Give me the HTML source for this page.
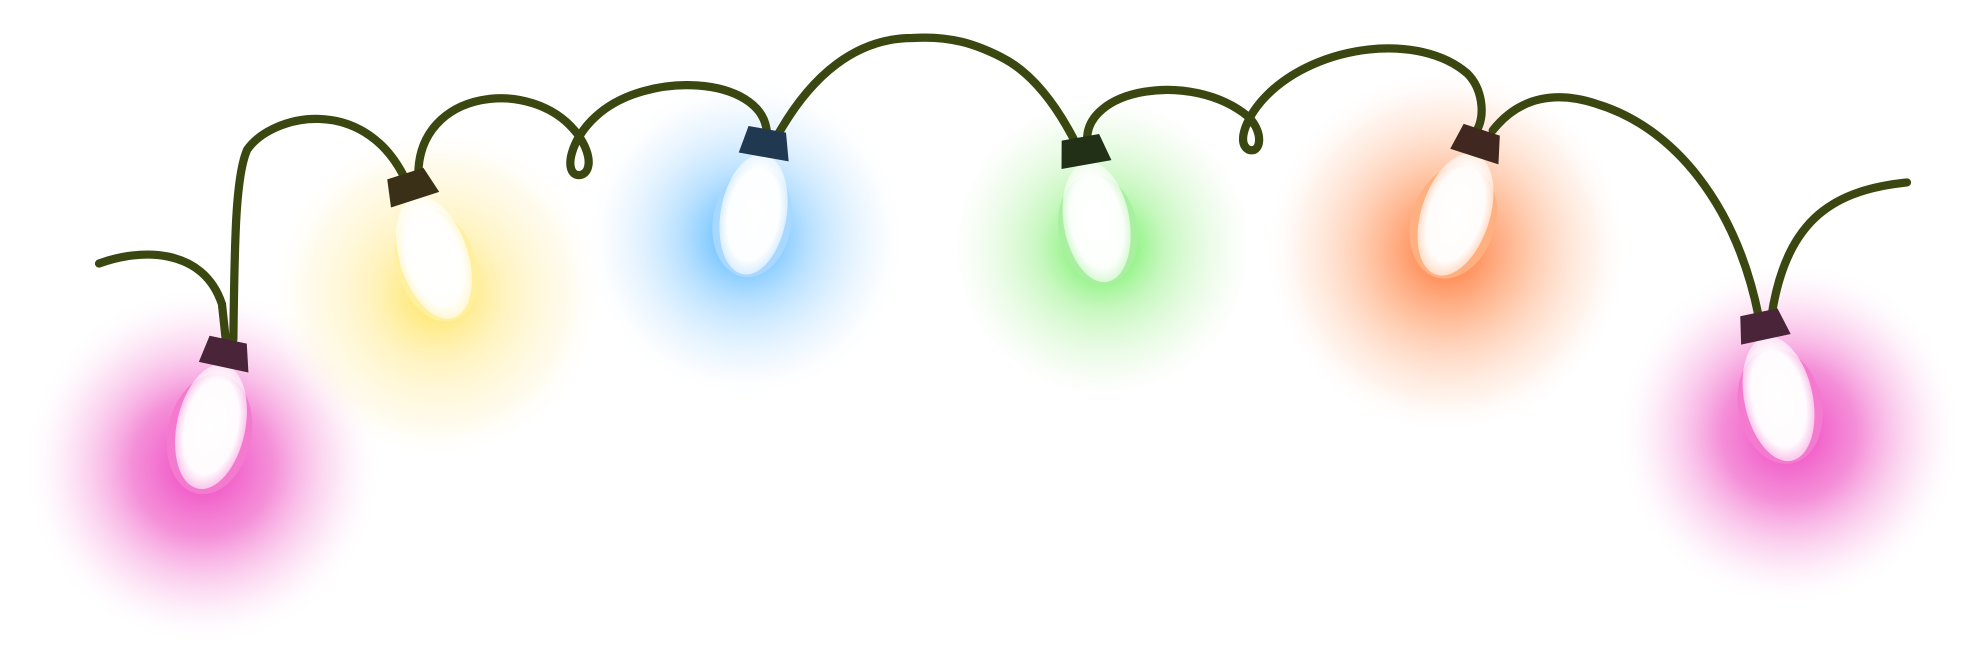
<!DOCTYPE html>
<html><head><meta charset="utf-8"><style>
html,body{margin:0;padding:0;background:#fff;width:1987px;height:655px;overflow:hidden}
svg{display:block}
</style></head><body>
<svg width="1987" height="655" viewBox="0 0 1568 517">
<defs>
<radialGradient id="gPink"><stop offset="0" stop-color="#f040c0" stop-opacity="1"/><stop offset="0.4" stop-color="#f060c8" stop-opacity="0.7"/><stop offset="0.75" stop-color="#f8a8e0" stop-opacity="0.3"/><stop offset="1" stop-color="#fdf0f8" stop-opacity="0"/></radialGradient>
<radialGradient id="gYellow"><stop offset="0" stop-color="#ffe040" stop-opacity="0.9"/><stop offset="0.4" stop-color="#ffe880" stop-opacity="0.5"/><stop offset="0.8" stop-color="#fff3c8" stop-opacity="0.3"/><stop offset="1" stop-color="#fff" stop-opacity="0"/></radialGradient>
<radialGradient id="gBlue"><stop offset="0" stop-color="#40b0ff" stop-opacity="1"/><stop offset="0.4" stop-color="#80c8ff" stop-opacity="0.55"/><stop offset="0.8" stop-color="#d8ecff" stop-opacity="0.3"/><stop offset="1" stop-color="#fff" stop-opacity="0"/></radialGradient>
<radialGradient id="gGreen"><stop offset="0" stop-color="#50f040" stop-opacity="1"/><stop offset="0.4" stop-color="#90f080" stop-opacity="0.5"/><stop offset="0.8" stop-color="#e0f8d8" stop-opacity="0.3"/><stop offset="1" stop-color="#fff" stop-opacity="0"/></radialGradient>
<radialGradient id="gOrange"><stop offset="0" stop-color="#ff7030" stop-opacity="1"/><stop offset="0.4" stop-color="#ff9860" stop-opacity="0.6"/><stop offset="0.8" stop-color="#ffdcc8" stop-opacity="0.35"/><stop offset="1" stop-color="#fff" stop-opacity="0"/></radialGradient>
<radialGradient id="bulbW" cx="0.5" cy="0.5" r="0.55"><stop offset="0" stop-color="#fff"/><stop offset="0.7" stop-color="#fff" stop-opacity="0.97"/><stop offset="1" stop-color="#fff" stop-opacity="0.4"/></radialGradient>
</defs>

<g>
<circle cx="160" cy="368" r="140" fill="url(#gPink)"/>
<circle cx="345" cy="232" r="132" fill="url(#gYellow)"/>
<circle cx="588" cy="188" r="128" fill="url(#gBlue)"/>
<circle cx="870" cy="195" r="124" fill="url(#gGreen)"/>
<circle cx="1142" cy="198" r="145" fill="url(#gOrange)"/>
<circle cx="1412" cy="342" r="135" fill="url(#gPink)"/>
</g>

<path fill="none" stroke="#3a4710" stroke-width="6.5" stroke-linecap="round"
d="M78 208 C110 196 160 195 175 240 L178 268
M184 268 C185 200 185 140 195 118 C215 90 285 75 318 138
M330 138 C330 70 420 60 455 105 C470 125 465 140 455 138 C445 135 450 110 470 92 C510 55 600 60 605 103
M614 106 C640 60 675 30 720 30 C750 28 770 35 790 45 C820 60 840 95 850 115
M858 112 C855 70 940 55 985 92 C998 105 995 122 985 118 C975 112 985 90 1000 75 C1040 35 1120 25 1158 58 C1170 70 1172 90 1166 102
M1178 103 C1200 75 1230 72 1260 82 C1320 100 1370 160 1388 250
M1398 250 C1410 170 1450 150 1505 144"/>

<g>
<g transform="translate(178,282) rotate(12)">
<ellipse cx="0" cy="62" rx="33" ry="48" fill="#f47ad0"/><ellipse cx="0" cy="56" rx="27" ry="50" fill="url(#bulbW)"/>
<path d="M-16 -14 L14 -14 L20 8 L-20 8 Z" fill="#4a2438"/></g>
<g transform="translate(325,150) rotate(-18)">
<ellipse cx="0" cy="62" rx="31" ry="46" fill="#fff0a0"/><ellipse cx="0" cy="56" rx="27" ry="50" fill="url(#bulbW)"/>
<path d="M-16 -14 L14 -14 L20 8 L-20 8 Z" fill="#3a3018"/></g>
<g transform="translate(604,116) rotate(10)">
<ellipse cx="0" cy="60" rx="31" ry="44" fill="#a8d8ff"/><ellipse cx="0" cy="54" rx="26" ry="48" fill="url(#bulbW)"/>
<path d="M-16 -14 L14 -14 L20 8 L-20 8 Z" fill="#203850"/></g>
<g transform="translate(856,122) rotate(-10)">
<ellipse cx="0" cy="60" rx="31" ry="44" fill="#a8f0a0"/><ellipse cx="0" cy="54" rx="26" ry="48" fill="url(#bulbW)"/>
<path d="M-16 -14 L14 -14 L20 8 L-20 8 Z" fill="#223018"/></g>
<g transform="translate(1166,116) rotate(18)">
<ellipse cx="0" cy="62" rx="33" ry="46" fill="#ffb080"/><ellipse cx="0" cy="56" rx="27" ry="50" fill="url(#bulbW)"/>
<path d="M-16 -14 L14 -14 L20 8 L-20 8 Z" fill="#402820"/></g>
<g transform="translate(1392,260) rotate(-12)">
<ellipse cx="0" cy="62" rx="33" ry="46" fill="#f47ad0"/><ellipse cx="0" cy="56" rx="27" ry="50" fill="url(#bulbW)"/>
<path d="M-16 -14 L14 -14 L20 8 L-20 8 Z" fill="#4a2438"/></g>
</g>
</svg>
</body></html>
